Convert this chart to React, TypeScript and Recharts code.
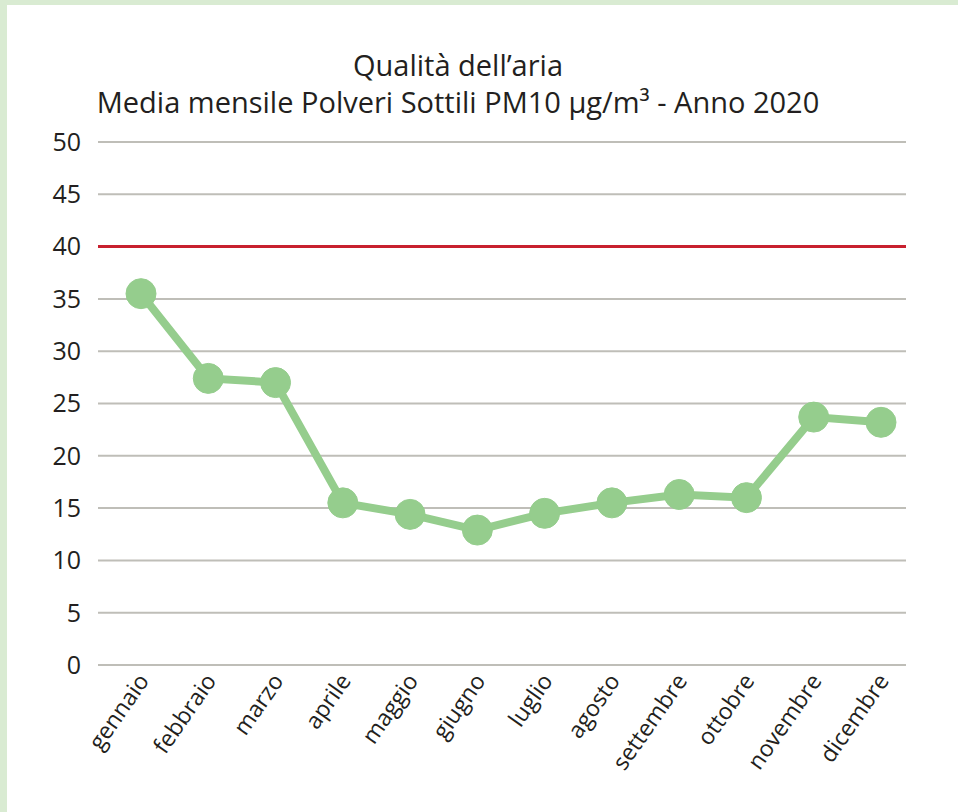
import { LineChart, Line, XAxis, YAxis, CartesianGrid, ReferenceLine } from 'recharts';

const months = [
  'gennaio', 'febbraio', 'marzo', 'aprile', 'maggio', 'giugno',
  'luglio', 'agosto', 'settembre', 'ottobre', 'novembre', 'dicembre',
];
const pm10 = [35.5, 27.4, 27.0, 15.5, 14.4, 12.9, 14.5, 15.5, 16.3, 16.0, 23.7, 23.2];
const yTicks = [0, 5, 10, 15, 20, 25, 30, 35, 40, 45, 50];
const limit = 40;

const data = months.map((m, i) => ({ month: m, value: pm10[i] }));

const FONT = '"Open Sans", sans-serif';

function MonthTick(props: any) {
  const { x, y, payload } = props;
  const ax = x + 9;
  const ay = y + 8;
  return (
    <text
      x={ax}
      y={ay}
      textAnchor="end"
      fontSize={23}
      fontFamily={FONT}
      fill="#231f20"
      transform={`rotate(-55, ${ax}, ${ay})`}
    >
      {payload.value}
    </text>
  );
}

export default function App() {
  return (
    <div
      style={{
        position: 'fixed', left: 0, top: 0, width: 951, height: 807,
        background: '#fff', borderLeft: '7px solid #d9ebd2', borderTop: '5px solid #d9ebd2',
        overflow: 'hidden',
      }}
    >
      <div
        style={{
          position: 'absolute', left: -7, width: 916, top: 41, textAlign: 'center',
          fontFamily: FONT, fontSize: 29, lineHeight: '37px', color: '#231f20',
        }}
      >
        Qualità dell’aria
        <br />
        Media mensile Polveri Sottili PM10 µg/m³ - Anno 2020
      </div>
      <div style={{ position: 'absolute', left: -7, top: -5 }}>
        <LineChart width={958} height={812} data={data} margin={{ top: 142, right: 52, left: 0, bottom: 27 }}>
          <CartesianGrid vertical={false} stroke="#bfbeb8" strokeWidth={2} />
          <XAxis
            dataKey="month"
            axisLine={false}
            tickLine={false}
            interval={0}
            height={120}
            padding={{ left: 43, right: 25 }}
            tick={<MonthTick />}
          />
          <YAxis
            domain={[0, 50]}
            ticks={yTicks}
            width={98}
            axisLine={false}
            tickLine={false}
            tickSize={0}
            tickMargin={17}
            tick={{ fontSize: 25, fontFamily: FONT, fill: '#231f20' }}
          />
          <ReferenceLine y={limit} stroke="#c8202f" strokeWidth={3} />
          <Line
            type="linear"
            dataKey="value"
            stroke="#95cd8d"
            strokeWidth={8}
            dot={{ r: 15, fill: '#95cd8d', stroke: '#95cd8d', strokeWidth: 1 }}
            isAnimationActive={false}
          />
        </LineChart>
      </div>
    </div>
  );
}
